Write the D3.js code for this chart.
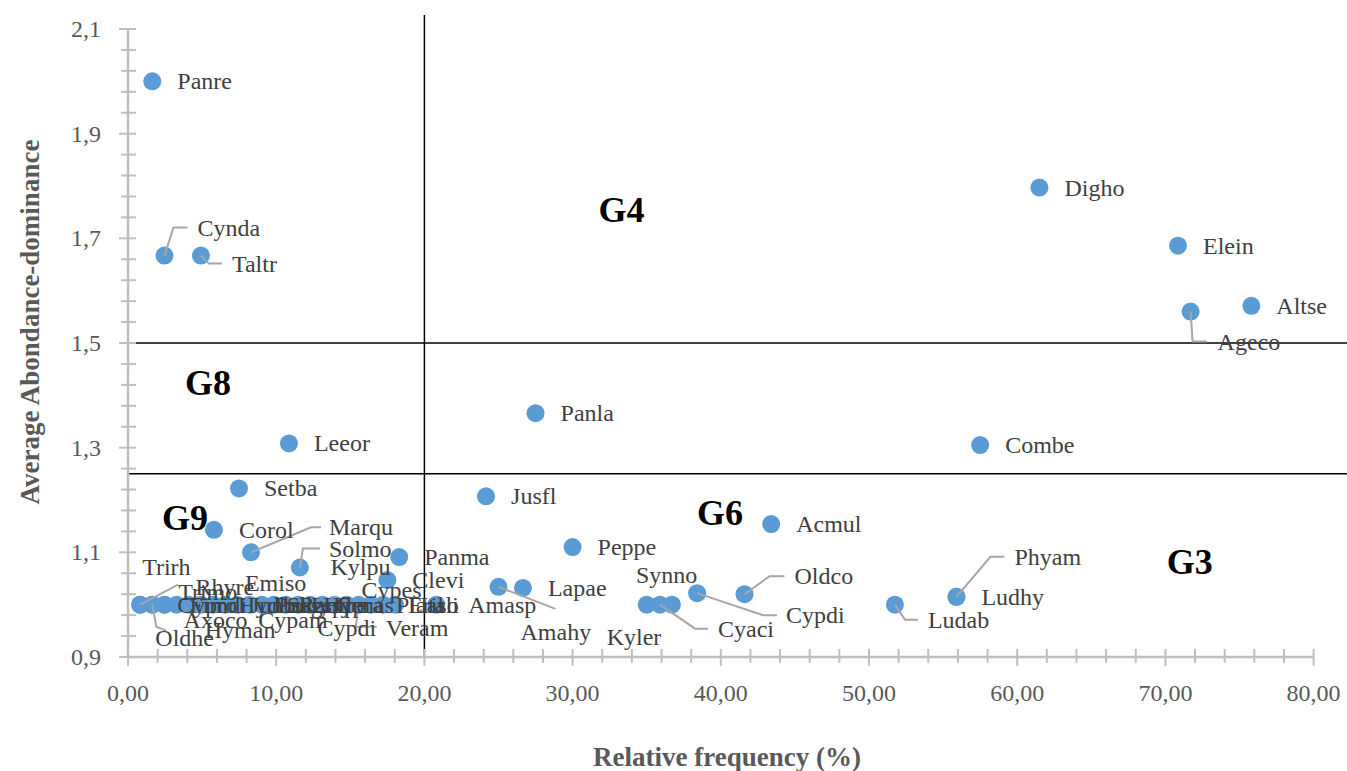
<!DOCTYPE html>
<html><head><meta charset="utf-8">
<script src="https://cdn.jsdelivr.net/npm/d3@7/dist/d3.min.js"></script>
<style>
html,body{margin:0;padding:0;background:#fff;}
svg{display:block;font-family:"Liberation Serif","DejaVu Serif",serif;}
</style></head>
<body>
<svg id="chart" width="1347" height="771"></svg>
<script>
// ---------- DATA ----------
const species = ["Panre","Cynda","Taltr","Digho","Elein","Altse","Ageco","Panla","Leeor","Combe",
  "Setba","Jusfl","Acmul","Corol","Marqu","Solmo","Panma","Peppe","Clevi","Amahy","Lapae","Amasp",
  "Kyler","Cyaci","Synno","Cypdi","Oldco","Ludab","Ludhy","Phyam",
  "Trirh","Trimo","Oldhe","Cypro","Fimdi","Rhyre","Axoco","Hyman","Emiso","Hydbo","Junbu","Cypam",
  "Polhy","Sagsp","Ranfl","Lotpe","Hypra","Cenas","Kylpu","Cypdi","Cypes","Veram","Plaal","Eriso","Itali"];
const freq = [1.64,2.46,4.92,61.5,70.85,75.8,71.7,27.5,10.86,57.5,
  7.49,24.16,43.4,5.8,8.3,11.6,18.3,30.0,17.5,25.0,26.65,20.8,
  35.0,35.9,36.7,38.4,41.6,51.75,55.9,55.9,
  0.82,0.82,1.64,1.64,2.46,2.46,3.28,4.1,4.92,5.74,6.56,7.38,
  8.2,9.02,9.84,10.66,11.48,12.3,13.12,13.94,14.75,15.57,16.39,17.21,18.03];
const abund = [2.0,1.667,1.667,1.797,1.686,1.571,1.56,1.366,1.308,1.305,
  1.222,1.207,1.154,1.143,1.1,1.071,1.091,1.11,1.047,1.034,1.032,1.0,
  1.0,1.0,1.0,1.022,1.02,1.0,1.015,1.015,
  1.0,1.0,1.0,1.0,1.0,1.0,1.0,1.0,1.0,1.0,1.0,1.0,
  1.0,1.0,1.0,1.0,1.0,1.0,1.0,1.0,1.0,1.0,1.0,1.0,1.0];
const groupNames = ["G4","G8","G9","G6","G3"];
const groupX = [33.3,5.4,3.85,39.95,71.65];
const groupY = [1.755,1.424,1.166,1.175,1.082];
const xThreshold = 20;
const yThresholds = [1.5,1.25];
const xTicks = [0,10,20,30,40,50,60,70,80];
const yTicks = [0.9,1.1,1.3,1.5,1.7,1.9,2.1];

// ---------- LABEL LAYOUT (pixel offsets from marker) ----------
const layout = {
  "Cynda":{dx:33,dy:-28,leader:[[0,0],[9,-28],[23,-28]]},
  "Taltr":{dx:31,dy:8,leader:[[0,0],[8,8],[21,8]]},
  "Ageco":{dx:27,dy:30,leader:[[0,0],[2,30],[16,30]]},
  "Marqu":{dx:78,dy:-25,leader:[[0,0],[60,-25],[70,-25]]},
  "Solmo":{dx:29,dy:-19,leader:[[0,0],[3,-19],[20,-19]]},
  "Amahy":{dx:22,dy:45,leader:[[0,0],[57,22]]},
  "Amasp":{dx:32,dy:0},
  "Kyler":{dx:-40,dy:32},
  "Cyaci":{dx:58,dy:24,leader:[[0,0],[35,24],[48,24]]},
  "Synno":{dx:-36,dy:-30},
  "Cypdi_1":{dx:89,dy:22,leader:[[0,0],[66,22],[80,22]]},
  "Oldco":{dx:50,dy:-18,leader:[[0,0],[25,-18],[40,-18]]},
  "Ludab":{dx:33,dy:15,leader:[[0,0],[10,15],[23,15]]},
  "Phyam":{dx:58,dy:-40,leader:[[0,0],[34,-40],[48,-40]]},
  "Trirh":{dx:2,dy:-38},
  "Trimo":{dx:38,dy:-13,leader:[[0,0],[38,-20]]},
  "Oldhe":{dx:3,dy:33,leader:[[0,0],[4,22],[14,26]]},
  "Rhyre":{dx:31,dy:-18},
  "Axoco":{dx:7,dy:15},
  "Hyman":{dx:16,dy:25},
  "Emiso":{dx:44,dy:-22},
  "Cypam":{dx:21,dy:15},
  "Kylpu":{dx:8,dy:-38},
  "Cypdi_2":{dx:-17,dy:23},
  "Cypes":{dx:15,dy:-15,leader:[[0,0],[-13,-8]].map(p=>p)},
  "Veram":{dx:27,dy:23,leader:[[0,0],[-3,22],[18,22]]}
};
const defaultDx = 25;

// ---------- CHART ----------
const svg = d3.select("#chart");
const x = d3.scaleLinear().domain([0,80]).range([128,1313.6]);
const y = d3.scaleLinear().domain([0.9,2.1]).range([657,29]);
const loc = d3.formatLocale({decimal:",",thousands:" ",grouping:[3],currency:["",""]});
const fx = loc.format(".2f"), fy = loc.format(".1f");
const axisCol = "#bfbfbf";

// reference lines
const gRef = svg.append("g");
gRef.append("line").attr("x1",x(xThreshold)).attr("x2",x(xThreshold))
  .attr("y1",15).attr("y2",y(0.9)).attr("stroke","#000").attr("stroke-width",1.5);
yThresholds.forEach(v=>{
  gRef.append("line").attr("x1",x(0)).attr("x2",1347).attr("y1",y(v)).attr("y2",y(v))
    .attr("stroke","#000").attr("stroke-width",1.5);
});

// axes
const gAx = svg.append("g");
gAx.append("line").attr("x1",x(0)).attr("x2",x(80)).attr("y1",y(0.9)).attr("y2",y(0.9))
  .attr("stroke",axisCol).attr("stroke-width",2.5);
gAx.append("line").attr("x1",x(0)).attr("x2",x(0)).attr("y1",y(0.9)).attr("y2",y(2.1))
  .attr("stroke",axisCol).attr("stroke-width",2.5);
d3.range(0,80.001,2).forEach(v=>{
  const major = Math.abs(v%10)<1e-6;
  gAx.append("line").attr("x1",x(v)).attr("x2",x(v))
    .attr("y1",y(0.9)-8).attr("y2",y(0.9)+(major?9:6))
    .attr("stroke",axisCol).attr("stroke-width",2);
});
d3.range(0,30.001,1).forEach(i=>{
  const v = 0.9+i*0.04;
  const major = i%5===0;
  gAx.append("line").attr("y1",y(v)).attr("y2",y(v))
    .attr("x1",x(0)-(major?9:7)).attr("x2",x(0)+8)
    .attr("stroke",axisCol).attr("stroke-width",2);
});
gAx.selectAll("text.xt").data(xTicks).join("text").attr("class","xt")
  .attr("x",d=>x(d)).attr("y",701).attr("text-anchor","middle")
  .attr("font-size",24).attr("fill","#595959").text(d=>fx(d));
gAx.selectAll("text.yt").data(yTicks).join("text").attr("class","yt")
  .attr("x",101).attr("y",d=>y(d)+8).attr("text-anchor","end")
  .attr("font-size",24).attr("fill","#595959").text(d=>fy(d));

// titles
svg.append("text").attr("x",727).attr("y",766).attr("text-anchor","middle")
  .attr("font-size",27).attr("font-weight","bold").attr("fill","#595959")
  .text("Relative frequency (%)");
svg.append("text").attr("transform","translate(39,322) rotate(-90)").attr("text-anchor","middle")
  .attr("font-size",27).attr("font-weight","bold").attr("fill","#595959")
  .text("Average Abondance-dominance");

// points
const counts = {};
const pts = species.map((n,i)=>{
  counts[n]=(counts[n]||0)+1;
  const key = layout[n+"_"+counts[n]] ? n+"_"+counts[n] : n;
  return {name:n,x:freq[i],y:abund[i],lay:layout[key]||{dx:defaultDx,dy:0}};
});
svg.append("g").selectAll("circle").data(pts).join("circle")
  .attr("cx",d=>x(d.x)).attr("cy",d=>y(d.y)).attr("r",9).attr("fill","#5b9bd5");

// leaders
const gl = svg.append("g");
pts.filter(d=>d.lay.leader).forEach(d=>{
  gl.append("polyline")
    .attr("points",d.lay.leader.map(p=>[x(d.x)+p[0],y(d.y)+p[1]].join(",")).join(" "))
    .attr("fill","none").attr("stroke","#a6a6a6").attr("stroke-width",2);
});

// labels
svg.append("g").selectAll("text").data(pts).join("text")
  .attr("x",d=>x(d.x)+d.lay.dx).attr("y",d=>y(d.y)+d.lay.dy+8)
  .attr("font-size",24).attr("fill","#404040").text(d=>d.name);

// group labels
svg.append("g").selectAll("text").data(groupNames).join("text")
  .attr("x",(d,i)=>x(groupX[i])).attr("y",(d,i)=>y(groupY[i])+12)
  .attr("text-anchor","middle").attr("font-size",36).attr("font-weight","bold")
  .attr("fill","#000").text(d=>d);
</script>
</body></html>
